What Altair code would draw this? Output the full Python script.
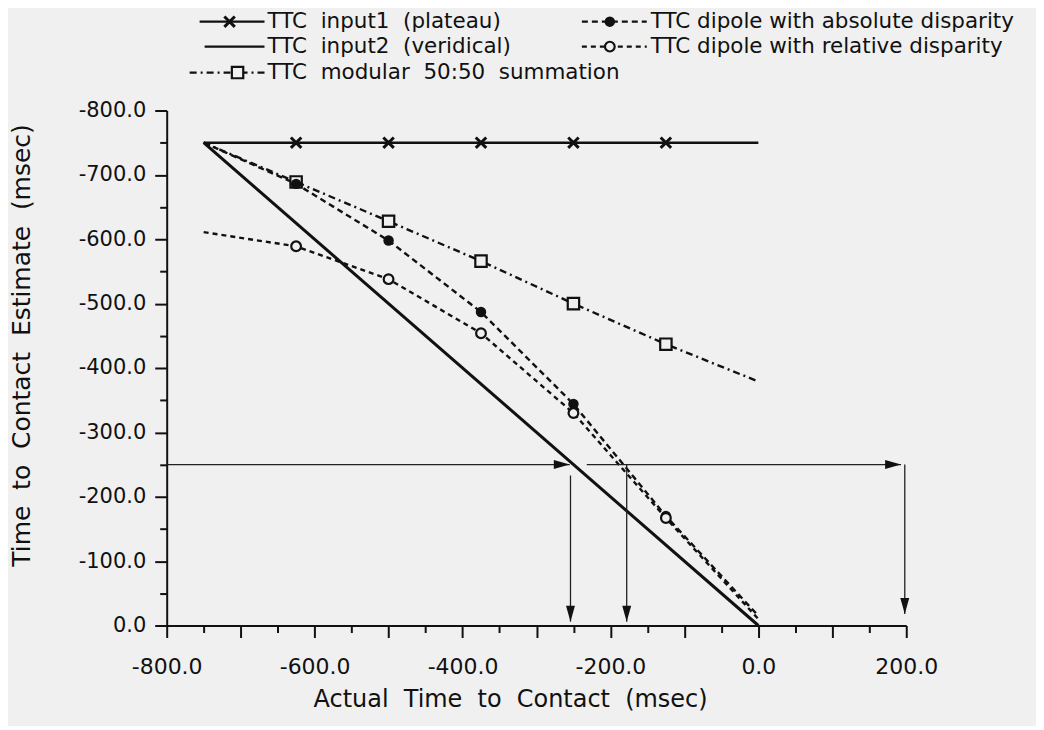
import altair as alt
import pandas as pd

# ---------------- data ----------------
MARK_X = [-625, -500, -375, -250, -125]

plateau_x = [-750, -625, -500, -375, -250, -125, 0]
plateau_y = [-750, -750, -750, -750, -750, -750, -750]

veridical_x = [-750, 0]
veridical_y = [-750, 0]

modular_x = [-750, -625, -500, -375, -250, -125, 0]
modular_y = [-750, -689, -628, -566, -500, -437, -379]

absolute_x = [-750, -625, -500, -375, -250, -125, 0]
absolute_y = [-750, -686, -598, -487, -344, -170, -15]

relative_x = [-750, -625, -500, -375, -250, -125, 0]
relative_y = [-611, -589, -538, -454, -330, -167, -10]

# annotation arrows (start -> tip)
arrow_x1 = [-800, -232, -254, -178, 198]
arrow_y1 = [-250, -250, -233, -250, -250]
arrow_x2 = [-255, 193, -254, -178, 198]
arrow_y2 = [-250, -250, -6, -6, -18]
arrow_dir = ["right", "right", "down", "down", "down"]

x_major = [-800, -700, -600, -500, -400, -300, -200, -100, 0, 100, 200]
x_minor = [-750, -650, -550, -450, -350, -250, -150, -50, 50, 150]
y_major = [-800, -700, -600, -500, -400, -300, -200, -100, 0]
y_minor = [-750, -650, -550, -450, -350, -250, -150, -50]

NB = "\u00a0"
x_title = f"Actual {NB}Time {NB}to {NB}Contact {NB}(msec)"
y_title = f"Time {NB}to {NB}Contact {NB}Estimate {NB}(msec)"

legend_labels = [
    f"TTC {NB}input1 {NB}(plateau)",
    f"TTC {NB}input2 {NB}(veridical)",
    f"TTC {NB}modular {NB}50:50 {NB}summation",
    "TTC dipole with absolute disparity",
    "TTC dipole with relative disparity",
]

# ---------------- styling ----------------
BG = "#f0f0f0"
INK = "#111111"
FONT = "DejaVu Sans"


def frame(xs, ys):
    return pd.DataFrame({"x": xs, "y": ys, "marker": [v in MARK_X for v in xs]})


fmt = "(datum.value < 0 ? '-' : '') + format(abs(datum.value), '.1f')"

xscale = alt.Scale(domain=[-800, 200], nice=False, zero=False)
yscale = alt.Scale(domain=[-800, 0], reverse=True, nice=False, zero=False)

x_major_axis = alt.Axis(
    orient="bottom",
    values=x_major,
    labelExpr=f"datum.value % 200 === 0 ? {fmt} : ''",
    tickSize=12,
    tickWidth=2,
    domainWidth=2,
    tickColor=INK,
    domainColor=INK,
    labelPadding=19,
    labelFontSize=22,
    labelFont=FONT,
    labelColor=INK,
    labelOverlap=False,
    labelFlush=False,
    labelBaseline="top",
    grid=False,
    title=x_title,
    titleFont=FONT,
    titleFontSize=24,
    titleFontWeight="normal",
    titleColor=INK,
    titleX=344,
    titleY=74,
    titleAlign="center",
    titleBaseline="middle",
)
x_minor_axis = alt.Axis(
    orient="bottom", values=x_minor, tickSize=7, tickWidth=2, tickColor=INK,
    domain=False, labels=False, grid=False, title=None,
)

y_major_axis = alt.Axis(
    orient="left",
    values=y_major,
    labelExpr=fmt,
    tickSize=12,
    tickWidth=2,
    domainWidth=2,
    tickColor=INK,
    domainColor=INK,
    labelPadding=9,
    labelFontSize=21,
    labelFont=FONT,
    labelColor=INK,
    labelOverlap=False,
    labelFlush=False,
    grid=False,
    title=y_title,
    titleFont=FONT,
    titleFontSize=25,
    titleFontWeight="normal",
    titleColor=INK,
    titleX=-145,
    titleY=235,
    titleAngle=-90,
    titleAlign="center",
    titleBaseline="middle",
)
y_minor_axis = alt.Axis(
    orient="left", values=y_minor, tickSize=7, tickWidth=2, tickColor=INK,
    domain=False, labels=False, grid=False, title=None,
)


def X(field, axis=None):
    return alt.X(field, type="quantitative", scale=xscale, axis=axis)


def Y(field, axis=None):
    return alt.Y(field, type="quantitative", scale=yscale, axis=axis)


def line_layer(df, width, dash=None, xa=None, ya=None, opacity=1):
    kw = dict(color=INK, strokeWidth=width, opacity=opacity)
    if dash:
        kw["strokeDash"] = dash
    return alt.Chart(df).mark_line(**kw).encode(x=X("x", xa), y=Y("y", ya))


DASH_ABS = [6, 4]
DASH_REL = [5, 4]
DASH_MOD = [7, 4, 2, 4]

CROSS = "M-1,-1L1,1M-1,1L1,-1"

df_plateau = frame(plateau_x, plateau_y)
df_veridical = frame(veridical_x, veridical_y)
df_modular = frame(modular_x, modular_y)
df_absolute = frame(absolute_x, absolute_y)
df_relative = frame(relative_x, relative_y)

layers = [
    # carries the minor-tick axes only (invisible)
    line_layer(df_veridical, 1, xa=x_minor_axis, ya=y_minor_axis, opacity=0),
    line_layer(df_relative, 2.4, DASH_REL),
    line_layer(df_absolute, 2.4, DASH_ABS),
    line_layer(df_modular, 2.4, DASH_MOD),
    line_layer(df_veridical, 3, xa=x_major_axis, ya=y_major_axis),
    line_layer(df_plateau, 2.4),
]

# arrows
arrows = pd.DataFrame({"x1": arrow_x1, "y1": arrow_y1, "x2": arrow_x2, "y2": arrow_y2, "dir": arrow_dir})
layers.append(
    alt.Chart(arrows).mark_rule(color="#222222", strokeWidth=1.3).encode(
        x=X("x1"), y=Y("y1"), x2="x2", y2="y2"
    )
)
HEAD_DOWN = "M0,0L-0.28,-1L0.28,-1Z"
HEAD_RIGHT = "M0,0L-1,-0.28L-1,0.28Z"
for d, path in (("down", HEAD_DOWN), ("right", HEAD_RIGHT)):
    layers.append(
        alt.Chart(arrows[arrows["dir"] == d]).mark_point(
            shape=path, size=1024, filled=True, color=INK, opacity=1
        ).encode(x=X("x2"), y=Y("y2"))
    )

# markers
def cross_mark(df):
    return alt.Chart(df).mark_point(shape=CROSS, size=110, filled=False, color=INK, strokeWidth=3, opacity=1)


def square_mark(df):
    return alt.Chart(df).mark_point(shape="square", size=130, filled=True, fill=BG, stroke=INK, strokeWidth=2.2, opacity=1)


def dot_mark(df):
    return alt.Chart(df).mark_point(shape="circle", size=110, filled=True, color=INK, opacity=1)


def ring_mark(df):
    return alt.Chart(df).mark_point(shape="circle", size=95, filled=True, fill=BG, stroke=INK, strokeWidth=2.2, opacity=1)


layers.append(cross_mark(df_plateau[df_plateau.marker]).encode(x=X("x"), y=Y("y")))
layers.append(square_mark(df_modular[df_modular.marker]).encode(x=X("x"), y=Y("y")))
layers.append(dot_mark(df_absolute[df_absolute.marker]).encode(x=X("x"), y=Y("y")))
layers.append(ring_mark(df_relative[df_relative.marker]).encode(x=X("x"), y=Y("y")))

# ---------------- hand-made legend (pixel layout above the plot) ----------------
one = pd.DataFrame({"k": [0]})
ROW = [-89, -64, -38]
LEFT_TXT, RIGHT_TXT = 101, 485
legend_items = [
    # (label index, row, line x0, line x1, text x, dash, marker, marker x)
    (0, 0, 33, 98, LEFT_TXT, None, cross_mark, 63),
    (1, 1, 38, 98, LEFT_TXT, None, None, None),
    (2, 2, 23, 98, LEFT_TXT, DASH_MOD, square_mark, 71),
    (3, 0, 416, 481, RIGHT_TXT, DASH_ABS, dot_mark, 444),
    (4, 1, 416, 481, RIGHT_TXT, DASH_REL, ring_mark, 444),
]
for li, row, x0, x1, tx, dash, mk, mx in legend_items:
    y = ROW[row]
    kw = dict(color=INK, strokeWidth=2.4)
    if dash:
        kw["strokeDash"] = dash
    layers.append(
        alt.Chart(one).mark_rule(**kw).encode(x=alt.value(x0), x2=alt.value(x1), y=alt.value(y))
    )
    if mk is not None:
        layers.append(mk(one).encode(x=alt.value(mx), y=alt.value(y)))
    layers.append(
        alt.Chart(one).mark_text(
            text=legend_labels[li], align="left", baseline="middle",
            font=FONT, fontSize=21.5, color=INK
        ).encode(x=alt.value(tx), y=alt.value(y))
    )

chart = alt.layer(*layers).resolve_axis(x="independent", y="independent").properties(
    width=741,
    height=516,
    autosize=alt.AutoSizeParams(type="none"),
    padding={"left": 159, "top": 102, "right": 130, "bottom": 100},
    background=BG,
).configure_view(stroke=None)

chart.save("out.html", embed_options={"renderer": "svg", "actions": False})
